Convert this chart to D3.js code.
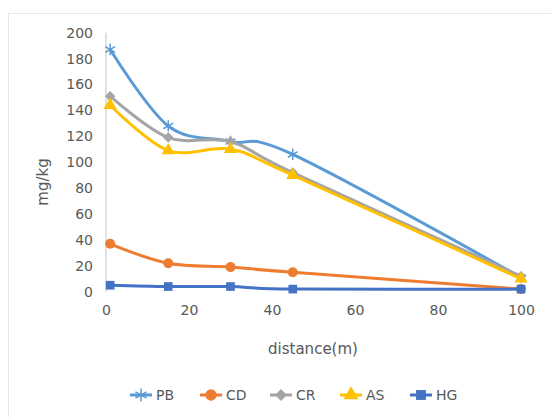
<!DOCTYPE html>
<html><head><meta charset="utf-8">
<script src="https://cdn.jsdelivr.net/npm/d3@7"></script>
<style>body{margin:0;background:#fff}svg{display:block}text{font-family:"DejaVu Sans",sans-serif;fill:#595959}</style>
</head><body>
<svg id="c" width="551" height="417"></svg>
<script>
const distance = [1, 15, 30, 45, 100];
const seriesNames = ["PB", "CD", "CR", "AS", "HG"];
const PB = [187, 128, 116, 106, 11];
const CD = [37, 22, 19, 15, 2];
const CR = [151, 119, 116, 92, 12];
const AS = [144, 109, 110, 90, 10];
const HG = [5, 4, 4, 2, 2];
const xTicks = [0, 20, 40, 60, 80, 100];
const yTicks = [0, 20, 40, 60, 80, 100, 120, 140, 160, 180, 200];
const colors = {PB:"#5B9BD5", CD:"#ED7D31", CR:"#A5A5A5", AS:"#FFC000", HG:"#4472C4"};
const values = {PB, CD, CR, AS, HG};

const svg = d3.select("#c");
svg.append("rect").attr("x",8.5).attr("y",13.5).attr("width",600).attr("height",500)
  .attr("fill","none").attr("stroke","#e6e6e6");

const x = d3.scaleLinear().domain([0,100]).range([106,521]);
const y = d3.scaleLinear().domain([0,200]).range([291.7,32.7]);

// y axis line
svg.append("line").attr("x1",x(0)).attr("x2",x(0)).attr("y1",y(200)).attr("y2",y(0))
  .attr("stroke","#d9d9d9").attr("stroke-width",1.5);

// y tick labels
const yAxis = d3.axisLeft(y).tickValues(yTicks).tickSize(0).tickPadding(13);
const gy = svg.append("g").attr("transform",`translate(${x(0)},0)`).call(yAxis);
gy.select(".domain").remove();
gy.selectAll("text").style("font-size","14px").style("font-family","DejaVu Sans").attr("fill","#595959");

const xAxis = d3.axisBottom(x).tickValues(xTicks).tickSize(0).tickPadding(8);
const gx = svg.append("g").attr("transform",`translate(0,${y(0)+5})`).call(xAxis);
gx.select(".domain").remove();
gx.selectAll("text").style("font-size","14px").style("font-family","DejaVu Sans").attr("fill","#595959");

svg.append("text").attr("x",313).attr("y",354).attr("text-anchor","middle")
  .style("font-size","15px").text("distance(m)");
svg.append("text").attr("transform","translate(48,182) rotate(-90)").attr("text-anchor","middle")
  .style("font-size","15px").text("mg/kg");

const line = d3.line().x((d,i)=>x(distance[i])).y(d=>y(d)).curve(d3.curveCardinal.tension(0));

function marker(g, name, cx, cy, s) {
  const c = colors[name];
  if (name === "PB") {
    g.append("path").attr("d", d3.symbol(d3.symbolAsterisk, 90*s)())
      .attr("transform",`translate(${cx},${cy})`).attr("fill","none").attr("stroke",c).attr("stroke-width",1.5);
  } else if (name === "CD") {
    g.append("circle").attr("cx",cx).attr("cy",cy).attr("r",5*Math.sqrt(s)).attr("fill",c);
  } else if (name === "CR") {
    g.append("path").attr("d", d3.symbol(d3.symbolSquare, 55*s)())
      .attr("transform",`translate(${cx},${cy}) rotate(45)`).attr("fill",c);
  } else if (name === "AS") {
    g.append("path").attr("d", d3.symbol(d3.symbolTriangle, 75*s)())
      .attr("transform",`translate(${cx},${cy})`).attr("fill",c);
  } else {
    g.append("path").attr("d", d3.symbol(d3.symbolSquare, 75*s)())
      .attr("transform",`translate(${cx},${cy})`).attr("fill",c);
  }
}

seriesNames.forEach(name => {
  const g = svg.append("g");
  g.append("path").datum(values[name]).attr("d", line).attr("fill","none")
    .attr("stroke", colors[name]).attr("stroke-width",3).attr("stroke-linejoin","round");
  values[name].forEach((v,i) => marker(g, name, x(distance[i]), y(v), 1));
});

// legend
const legX = [130, 200, 270, 340, 410];
seriesNames.forEach((name,i) => {
  const g = svg.append("g");
  const lx = legX[i], ly = 395;
  g.append("line").attr("x1",lx).attr("x2",lx+22).attr("y1",ly).attr("y2",ly)
    .attr("stroke",colors[name]).attr("stroke-width",3);
  marker(g, name, lx+11, ly, 1.3);
  g.append("text").attr("x",lx+26).attr("y",ly+5).style("font-size","14px").text(name);
});
</script>
</body></html>
